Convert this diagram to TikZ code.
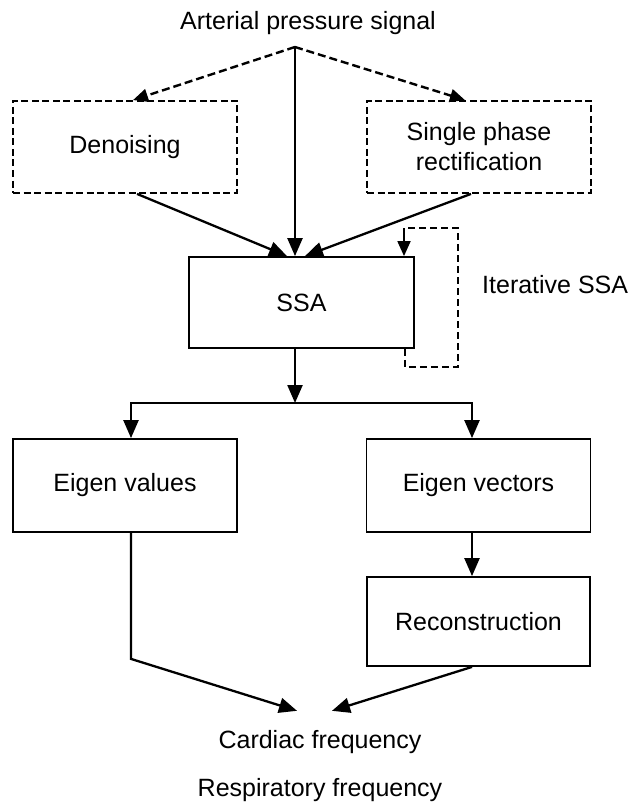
\documentclass[tikz,border=0pt]{standalone}
\usepackage{fontspec}
\setmainfont{Liberation Sans}
\usetikzlibrary{arrows.meta,positioning}
\tikzset{stagebox/.style={draw,rectangle,line width=1.8pt,minimum width=224pt,minimum height=92pt,align=center},
    optbox/.style={stagebox,dash pattern=on 7pt off 3.5pt},
    flowarrow/.style={line width=2.3pt,-{Triangle[length=18pt,width=15pt]}},
    optarrow/.style={line width=2.4pt,dash pattern=on 8pt off 4pt,-{Triangle[length=15pt,width=13pt]}},
    loopline/.style={line width=1.8pt,dash pattern=on 7pt off 4pt},
    looparrow/.style={line width=1.8pt,-{Triangle[length=15pt,width=13pt]}}
}

\begin{document}
\begin{tikzpicture}[x=1pt,y=-1pt,font=\fontsize{25}{30}\selectfont]
\useasboundingbox [fill=white] (0,0) rectangle (632,805);

% signal and optional preprocessing
\node (signal) at (308,23) {Arterial pressure signal};
\coordinate (fork) at (295,47);
\node (denoise) [optbox] at (125,147) {Denoising};
\node (rectify) [optbox] at (479,147) {Single phase\\rectification};

% decomposition
\node (ssa) [stagebox,minimum width=225pt,minimum height=91pt] at (301.5,302.5) {SSA};
\node (iterlabel) [anchor=west,inner sep=0] at (482,285) {Iterative SSA};
\coordinate (split) at (295,403);

\node (evals) [stagebox,minimum height=93pt] at (125,485.5) {Eigen values};
\node (evecs) [stagebox,minimum height=93pt] at (478.5,485.5) {Eigen vectors};
\node (recon) [stagebox,minimum width=223pt,minimum height=89pt] at (478.5,621.5) {Reconstruction};

% outputs
\node (cardiac) at (320,742) {Cardiac frequency};
\node (respir) at (320,790) {Respiratory frequency};

\draw [optarrow] (fork) -- ([xshift=8pt]denoise.north);
\draw [optarrow] (fork) -- ([xshift=-14pt]rectify.north);
\draw [flowarrow] (fork) -- (ssa.north -| fork);
\draw [flowarrow] ([xshift=12pt]denoise.south) -- ([xshift=-14.5pt]ssa.north);
\draw [flowarrow] ([xshift=-8pt]rectify.south) -- ([xshift=3.5pt]ssa.north);

% iteration loop
\coordinate (loopin) at (404,228);
\draw [loopline] ([xshift=-10pt]ssa.south east) -- ++(0,18) -- ++(53,0) |- (loopin);
\draw [looparrow] (loopin) -- (ssa.north -| loopin);

\draw [flowarrow] (ssa.south -| fork) -- (split);
\draw [flowarrow] (split) -| ([xshift=6pt]evals.north);
\draw [flowarrow] (split) -| ([xshift=-6.5pt]evecs.north);
\draw [flowarrow] ([xshift=-6.5pt]evecs.south) -- ([xshift=-6.5pt]recon.north);

\draw [flowarrow] ([xshift=6pt]evals.south) -- ++(0,126) -- ([xshift=-23pt,yshift=16pt]cardiac.north);
\draw [flowarrow] ([xshift=-6.5pt]recon.south) -- ([xshift=12pt,yshift=16pt]cardiac.north);

\end{tikzpicture}
\end{document}
